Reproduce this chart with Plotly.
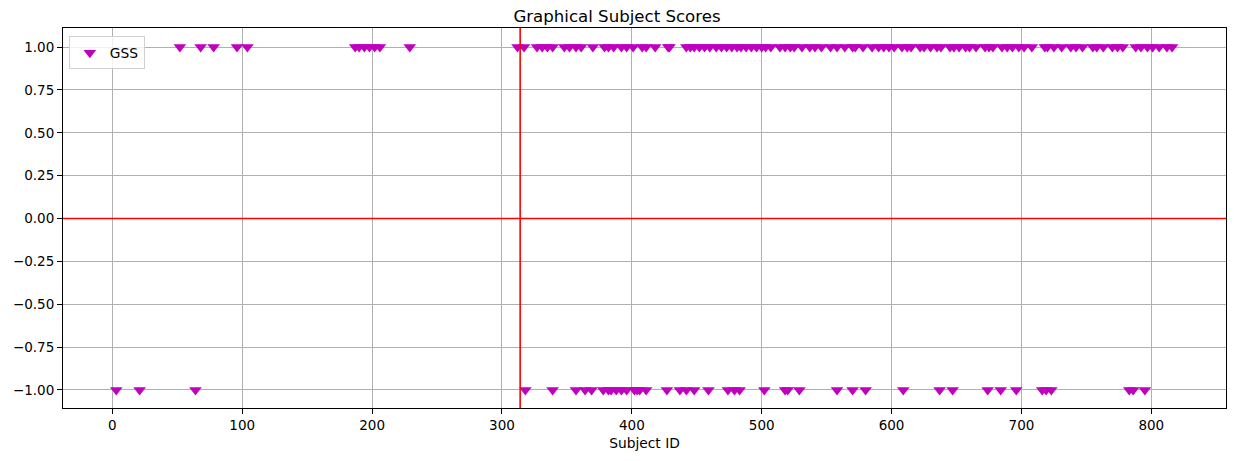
import plotly.graph_objects as go

# 评分为 +1 的受试者编号
pos_ids = [52, 68, 78, 96, 104, 187, 190, 194, 198, 202, 206, 229,
           312, 317, 327, 331, 335, 339, 348, 352, 357, 361, 370, 379,
           382, 386, 392, 396, 401, 408, 411, 418, 428, 429, 442, 445,
           448, 452, 456, 460, 465, 469, 473, 477, 481, 484, 488, 492,
           496, 500, 503, 507, 514, 518, 522, 525, 531, 537, 541, 546,
           553, 558, 564, 570, 572, 578, 585, 590, 594, 598, 602, 608,
           612, 615, 622, 625, 630, 635, 638, 645, 648, 652, 657, 660,
           665, 672, 675, 678, 685, 689, 693, 698, 702, 708, 718, 720,
           725, 731, 738, 742, 747, 755, 758, 763, 770, 774, 778, 788,
           792, 797, 801, 806, 812, 816]
# 评分为 -1 的受试者编号
neg_ids = [3, 21, 64, 318, 339, 357, 364, 369, 378, 382, 384, 388,
           392, 396, 402, 404, 406, 411, 427, 437, 442, 448, 459, 474,
           479, 483, 502, 518, 520, 529, 558, 570, 580, 609, 637, 647,
           674, 684, 696, 716, 719, 723, 783, 786, 795]

subject_ids = pos_ids + neg_ids
scores = [1] * len(pos_ids) + [-1] * len(neg_ids)
split_id = 314

x_ticks = [0, 100, 200, 300, 400, 500, 600, 700, 800]
y_ticks = [-1.0, -0.75, -0.5, -0.25, 0.0, 0.25, 0.5, 0.75, 1.0]

font = "DejaVu Sans"

fig = go.Figure()
fig.add_trace(go.Scatter(x=subject_ids, y=scores, mode="markers", name="GSS",
                         marker=dict(symbol="triangle-down", size=11, color="#bf00bf",
                                     line=dict(width=0)),
                         showlegend=True))

# 红色参考线
fig.add_hline(y=0, line=dict(color="red", width=1.6), layer="above")
fig.add_vline(x=split_id, line=dict(color="red", width=1.6), layer="above")

axis_common = dict(showgrid=True, gridcolor="#b0b0b0", gridwidth=0.8,
                   showline=True, linecolor="black", linewidth=1, mirror=True,
                   ticks="outside", ticklen=5, tickcolor="black", zeroline=False,
                   tickfont=dict(family=font, size=13.5, color="black"))

fig.update_xaxes(range=[-38, 857.5], tickvals=x_ticks,
                 title=dict(text="Subject ID", font=dict(family=font, size=13.8, color="black"),
                            standoff=6),
                 **axis_common)
fig.update_yaxes(range=[-1.105, 1.111], tickvals=y_ticks, tickformat=".2f", **axis_common)

fig.update_layout(
    width=1234, height=461,
    margin=dict(l=63, r=8, t=28, b=53),
    paper_bgcolor="white", plot_bgcolor="white",
    title=dict(text="Graphical Subject Scores", x=0.5, xanchor="center",
               y=0.965, yanchor="middle",
               font=dict(family=font, size=16.6, color="black")),
    legend=dict(x=0.005, y=0.978, xanchor="left", yanchor="top",
                bgcolor="rgba(255,255,255,0.8)", bordercolor="#d0d0d0", borderwidth=1,
                font=dict(family=font, size=13.8, color="black")),
    hovermode=False,
)

# 去掉页面默认边距
fig.write_html("out.html", config={"displayModeBar": False},
               post_script="document.body.style.margin='0';")
